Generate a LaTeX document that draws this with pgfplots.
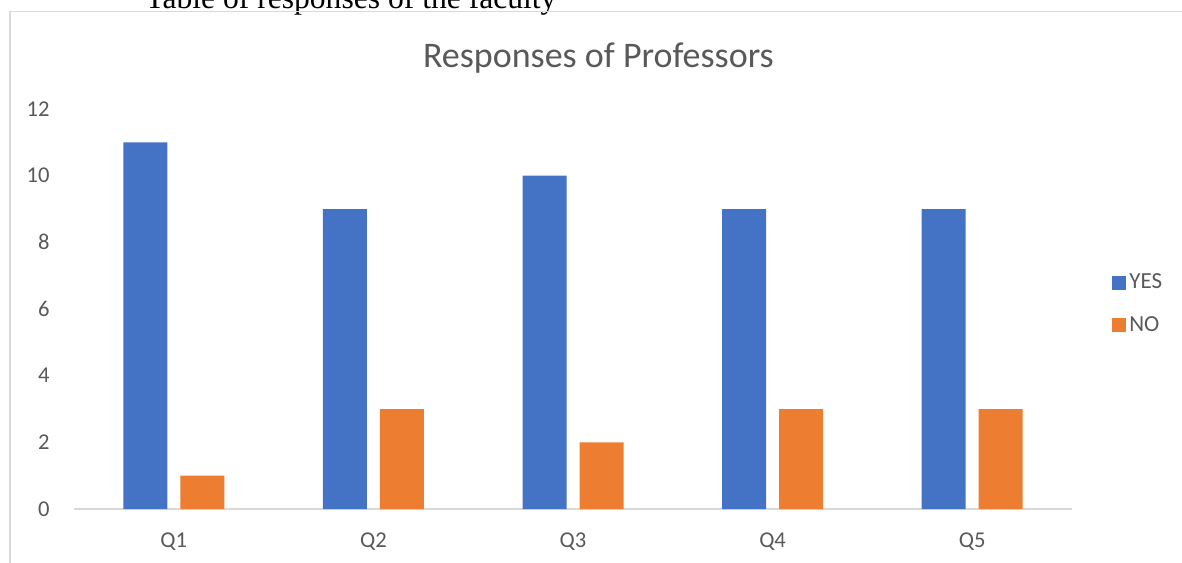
\documentclass[border=0pt]{standalone}
\usepackage{fontspec}
\setmainfont{Carlito}
\newfontfamily\serifpart{Liberation Serif}
\usepackage{pgfplots}
\pgfplotsset{compat=1.18}
\definecolor{yesblue}{HTML}{4472C4}
\definecolor{noorange}{HTML}{ED7D31}
\definecolor{txtgray}{HTML}{595959}
\definecolor{linegray}{HTML}{D9D9D9}

\begin{document}
\begin{tikzpicture}
\useasboundingbox (0,0) rectangle (591pt,-281pt);
\clip (0,0) rectangle (591pt,-281pt);
% caption of the page, cut off at the top
\node[anchor=base west, inner sep=0pt, font=\fontsize{15.8}{18}\serifpart] at (72.5pt,-4.5pt) {Table of responses of the faculty};
% chart area frame
\draw[linegray, line width=0.6pt] (5pt,-290pt) -- (5pt,-5.75pt) -- (600pt,-5.75pt);
\node[anchor=base, inner sep=0pt, font=\fontsize{18}{22}\selectfont, text=txtgray] at (299.2pt,-33.5pt) {Responses of Professors};
\begin{axis}[
  scale only axis,
  width=499pt, height=200pt,
  at={(37pt,-254.5pt)}, anchor=south west,
  xmin=-0.5, xmax=4.5,
  ymin=0, ymax=12,
  ybar=6.5pt, bar width=22pt,
  every axis plot post/.append style={
    legend image code/.code={\fill[##1] (0pt,-3.5pt) rectangle (7pt,3.5pt);}
  },
  xtick={0,1,2,3,4},
  xticklabels={Q1,Q2,Q3,Q4,Q5},
  ytick={0,2,4,6,8,10,12},
  axis lines*=left,
  y axis line style={draw=none},
  x axis line style={draw=linegray, line width=0.75pt},
  major tick length=0pt,
  tick style={draw=none},
  ticklabel style={font=\fontsize{11.3}{13}\selectfont, text=txtgray, inner sep=0pt},
  yticklabel style={xshift=-12pt},
  xticklabel style={yshift=-11.5pt},
  /pgf/number format/assume math mode=true,
  legend style={
    draw=none, fill=none,
    at={(1.040,0.512)}, anchor=west,
    inner sep=0pt, row sep=9.3pt,
    font=\fontsize{11.5}{13}\selectfont, text=txtgray,
    nodes={inner sep=1.5pt}
  },
  legend cell align=left,
  clip=false
]
\addplot[fill=yesblue, draw=none] coordinates {(0,11) (1,9) (2,10) (3,9) (4,9)};
\addlegendentry{YES}
\addplot[fill=noorange, draw=none] coordinates {(0,1) (1,3) (2,2) (3,3) (4,3)};
\addlegendentry{NO}
\end{axis}
\end{tikzpicture}
\end{document}
